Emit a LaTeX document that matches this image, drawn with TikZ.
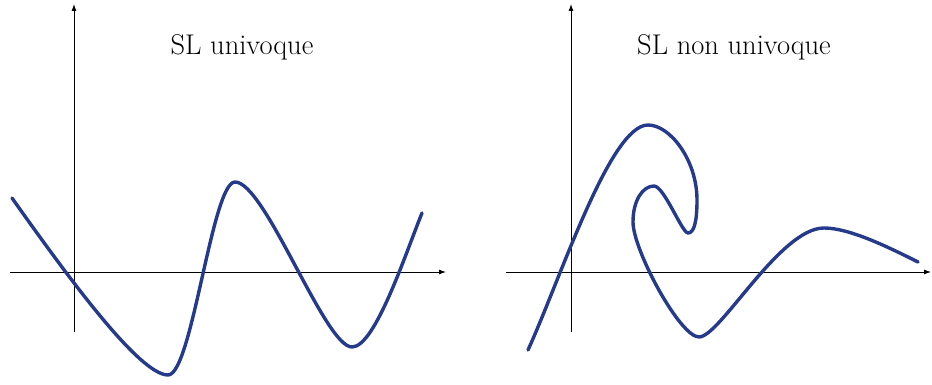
\documentclass[tikz,border=0pt]{standalone}
\usetikzlibrary{arrows.meta}
\definecolor{curveblue}{RGB}{38,58,140}
\tikzset{
  axis/.style={line width=0.9pt, black, -{Latex[length=7pt,width=5pt]}},
  curve/.style={line width=3.4pt, curveblue, line cap=round, line join=round},
  title/.style={font=\fontsize{28.5}{34}\selectfont, inner sep=0pt}
}
\begin{document}
\begin{tikzpicture}[x=1pt,y=-1pt]
\useasboundingbox (0,0) rectangle (932,385);
% left panel axes
\coordinate (lxs) at (10,272);
\coordinate (lxe) at (446,272);
\coordinate (lys) at (74,332);
\coordinate (lye) at (74,4);
\draw[axis] (lxs) -- (lxe);
\draw[axis] (lys) -- (lye);
\node[title] (ltitle) at (242,47) {SL univoque};
\draw[curve] (12,198) .. controls (70,280) and (140,375) .. (168,375)
  .. controls (192,375) and (212,182) .. (235,182)
  .. controls (265,182) and (325,347) .. (352,347)
  .. controls (375,347) and (405,255) .. (422,213);
% right panel axes
\coordinate (rxs) at (506,272);
\coordinate (rxe) at (931,272);
\coordinate (rys) at (571,332);
\coordinate (rye) at (571,4);
\draw[axis] (rxs) -- (rxe);
\draw[axis] (rys) -- (rye);
\node[title] (rtitle) at (734,47) {SL non univoque};
\draw[curve] (528,350) .. controls (560,280) and (610,125) .. (648,125)
  .. controls (670,125) and (697,160) .. (697,200)
  .. controls (697,222) and (694,233) .. (688,233)
  .. controls (682,233) and (664,186) .. (654,186)
  .. controls (643,186) and (633,200) .. (633,222)
  .. controls (633,250) and (680,337) .. (699,337)
  .. controls (720,337) and (780,228) .. (824,228)
  .. controls (850,228) and (890,248) .. (918,262);
\end{tikzpicture}
\end{document}
